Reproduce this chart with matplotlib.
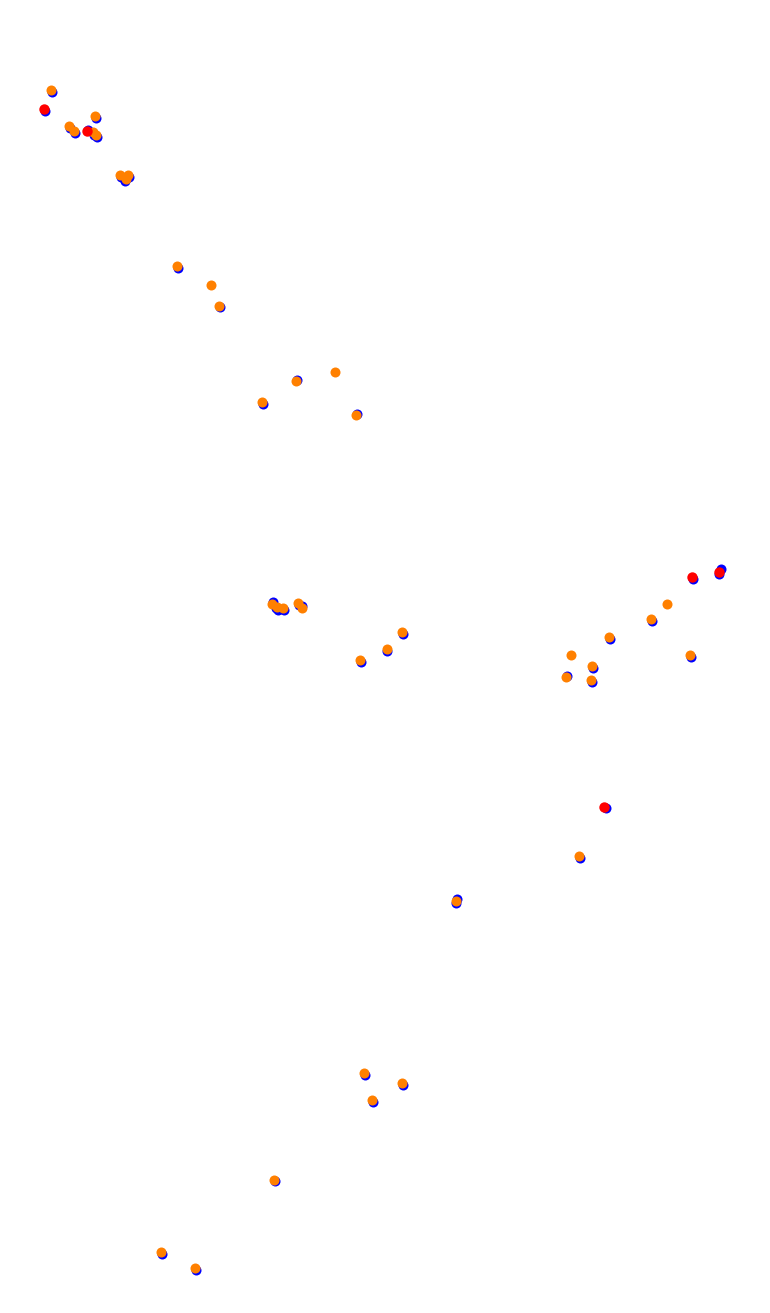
import matplotlib
matplotlib.use("Agg")
import matplotlib.pyplot as plt

# Track positions (pixel-like map coordinates, y grows downward)
blue_x = [52, 45, 70, 75, 96, 88, 94, 97, 121, 129, 125, 178, 220, 263, 297, 357,
          273, 276, 278, 284, 299, 302, 361, 387, 403, 567, 593, 592, 610, 652, 691,
          693, 721, 719, 606, 580, 457, 456, 365, 403, 373, 275, 162, 196]
blue_y = [92, 111, 128, 133, 118, 130, 135, 137, 177, 177, 181, 268, 307, 404, 380, 414,
          602, 608, 610, 610, 605, 606, 662, 651, 634, 676, 668, 682, 639, 621, 657,
          579, 569, 574, 808, 858, 899, 903, 1075, 1085, 1102, 1181, 1254, 1270]

orange_x = [51, 69, 74, 95, 93, 96, 120, 128, 126, 177, 211, 219, 262, 296, 335, 356,
            272, 277, 283, 298, 302, 360, 387, 402, 571, 592, 566, 591, 609, 651, 667,
            690, 579, 456, 364, 402, 372, 274, 161, 195]
orange_y = [90, 126, 131, 116, 132, 135, 175, 175, 179, 266, 285, 306, 402, 381, 372, 415,
            604, 607, 608, 603, 608, 660, 649, 632, 655, 666, 677, 680, 637, 619, 604,
            655, 856, 901, 1073, 1083, 1100, 1180, 1252, 1268]

red_x = [44, 87, 692, 719, 604]
red_y = [109, 131, 577, 572, 807]


def main():
    fig = plt.figure(figsize=(7.70, 13.13), dpi=100)
    ax = fig.add_axes([0, 0, 1, 1])
    ax.scatter(blue_x, blue_y, s=52, color="#0000ff", linewidths=0)
    ax.scatter(orange_x, orange_y, s=52, color="#ff8000", linewidths=0)
    ax.scatter(red_x, red_y, s=56, color="#ff0000", linewidths=0)
    ax.set_xlim(0, 770)
    ax.set_ylim(1313, 0)
    ax.axis("off")
    fig.savefig("out.png", dpi=100)


if __name__ == "__main__":
    main()
